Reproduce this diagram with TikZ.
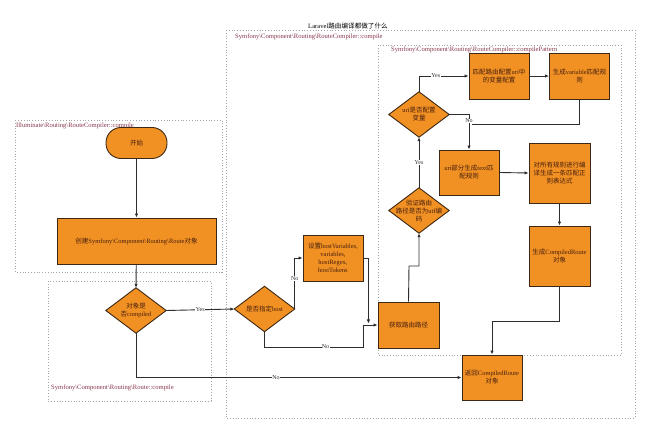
\documentclass[tikz,border=0pt]{standalone}
\usepackage{fontspec}
\setmainfont{Liberation Serif}
\newfontfamily\cjk{Noto Sans CJK SC}
\newcommand\zh[1]{{\cjk #1}}
\usetikzlibrary{arrows.meta,backgrounds,calc}
\definecolor{nodefill}{RGB}{242,145,35}
\definecolor{nodeline}{RGB}{60,40,20}
\definecolor{nodetext}{RGB}{70,30,15}
\definecolor{lblcol}{RGB}{135,55,75}
\definecolor{linecol}{RGB}{45,45,45}
\definecolor{dotcol}{RGB}{165,165,165}
\tikzset{
  box/.style={draw=nodeline, fill=nodefill, line width=0.9pt, inner sep=1pt, align=center,
    minimum width=60pt, minimum height=46pt, text=nodetext},
  dia/.style={inner sep=0pt, align=center, minimum width=60pt, minimum height=45pt, text=nodetext},
  diashape/.style={draw=nodeline, fill=nodefill, line width=0.9pt},
  arr/.style={draw=linecol, line width=0.9pt, -{Latex[length=4pt,width=3.4pt]}},
  ln/.style={draw=linecol, line width=0.9pt},
  grp/.style={draw=dotcol, dotted, line width=0.8pt},
  grplbl/.style={text=lblcol, anchor=west, inner sep=0pt, font=\fontsize{6.6}{7}\selectfont},
  yn/.style={fill=white, inner sep=0.4pt, text=linecol, font=\fontsize{6}{6}\selectfont}
}
\begin{document}
\begin{tikzpicture}[x=1pt, y=-1pt, font=\fontsize{6.5}{8}\selectfont]
\useasboundingbox (0,0) rectangle (650,435);

% group labels and title
\node[inner sep=0pt, font=\fontsize{6.6}{7}\selectfont] (title) at (348,26) {Laravel\zh{路由编译都做了什么}};
\node[grplbl] (gill) at (16,126) {Illuminate\textbackslash Routing\textbackslash RouteCompiler::compile};
\node[grplbl] (groute) at (51,388) {Symfony\textbackslash Component\textbackslash Routing\textbackslash Route::compile};
\node[grplbl] (gcomp) at (235,37) {Symfony\textbackslash Component\textbackslash Routing\textbackslash RouteCompiler::compile};
\node[grplbl] (gpat) at (391,49.5) {Symfony\textbackslash Component\textbackslash Routing\textbackslash RouteCompiler::compilePattern};

% nodes
\node[box, minimum width=61pt, minimum height=31pt, rounded corners=15pt] (start) at (136.5,143) {\zh{开始}};
\node[box, minimum width=159pt] (create) at (136.5,241) {\zh{创建}Symfony\textbackslash Component\textbackslash Routing\textbackslash Route\zh{对象}};
\node[dia] (comp) at (136,310.5) {\zh{对象是}\\\zh{否}compiled};
\node[dia] (host) at (264.5,309) {\zh{是否指定}host};
\node[box] (set) at (333,258) {\zh{设置}hostVariables,\\variables,\\hostRegex,\\hostTokens};
\node[box, minimum width=61pt] (get) at (408.5,325) {\zh{获取路由路径}};
\node[dia] (ver) at (419,210.5) {\zh{验证路由}\\\zh{路径是否为}utf\zh{编}\\\zh{码}};
\node[dia] (uri) at (419,114.5) {uri\zh{是否配置}\\\zh{变量}};
\node[box] (match) at (499,76) {\zh{匹配路由配置}uri\zh{中}\\\zh{的变量配置}};
\node[box] (genvar) at (579.5,76) {\zh{生成}variable\zh{匹配规}\\\zh{则}};
\node[box, minimum height=45pt] (text) at (469,172.5) {uri\zh{部分生成}text\zh{匹}\\\zh{配规则}};
\node[box, minimum width=61pt, minimum height=60pt] (all) at (559.5,173) {\zh{对所有规则进行编}\\\zh{译生成一条匹配正}\\\zh{则表达式}};
\node[box, minimum width=61pt, minimum height=60pt] (compr) at (559.5,256) {\zh{生成}CompiledRoute\\\zh{对象}};
\node[box, minimum height=45pt] (ret) at (492,377.5) {\zh{返回}CompiledRoute\\\zh{对象}};

\begin{pgfonlayer}{background}
  \draw[grp] (15,120) rectangle (222,272);
  \draw[grp] (48,281) rectangle (211,401);
  \draw[grp] (226,30) rectangle (635,418);
  \draw[grp] (378,45) rectangle (621,355);
  \foreach \n in {comp,host,ver,uri}
    \filldraw[diashape] (\n.north) -- (\n.east) -- (\n.south) -- (\n.west) -- cycle;
\end{pgfonlayer}

% connectors
\draw[arr] (start) -- (create);
\draw[arr] (create) -- (comp.north);
\draw[arr] (comp.east) -- node[yn] {Yes} (host.west);
\draw[arr] (comp.south) |- node[yn, pos=0.715] {No} (ret.west);
\draw[arr] (host.east) |- node[yn, pos=0.3] {No} (set.west);
\draw[arr] (set.east) -- ++(5,0) coordinate (s1) -- ($(s1 |- get.west)+(0,-1.5)$);
\draw[arr] (host.south) -- (host.south |- 0,347) coordinate (h1)
   -- node[yn, pos=0.62] {No} (363,347) -- (363,325) -- (get.west);
\draw[arr] (get.north) -- (409,266) -- (419,266) -- (ver.south);
\draw[arr] (ver.north) -- node[yn] {Yes} (uri.south);
\draw[arr] (uri.north) |- node[yn, pos=0.67] {Yes} (match.west);
\draw[arr] (match.east) -- (genvar.west);
\draw[arr] (uri.east) -| (text.north);
\node[yn] (nolbl) at (469,121) {No};
\draw[ln] (genvar.south) -- (579.5,124) -- (471.5,124);
\draw[arr] (text.east) -- (all.west);
\draw[arr] (all.south) -- (compr.north);
\draw[arr] (compr.south) -- (559.5,321) -- (492,321) -- (ret.north);
\end{tikzpicture}
\end{document}
